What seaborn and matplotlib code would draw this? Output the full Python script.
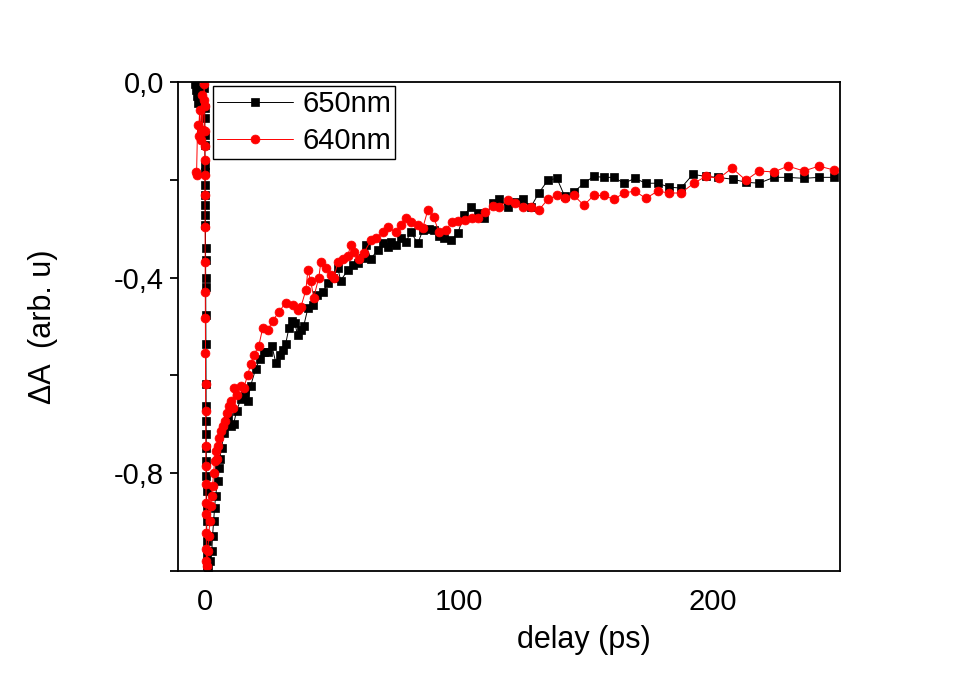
import numpy as np
import pandas as pd
import matplotlib
matplotlib.use("Agg")
import matplotlib.pyplot as plt
from matplotlib.ticker import FixedLocator
import seaborn as sns

# ---- data ----
t_650 = [-3.9, -3.5, -3.1, -2.8, -2.0, -1.2, -0.4,
         0.00, 0.03, 0.06, 0.09, 0.12, 0.15, 0.18, 0.21, 0.24, 0.27,
         0.30, 0.33, 0.36, 0.39, 0.42, 0.45, 0.48, 0.51, 0.54, 0.57,
         0.60, 0.63, 0.66, 0.69, 0.72, 0.75, 0.78, 0.81, 0.84, 0.87,
         1.2, 2.0, 2.8, 3.1, 3.5, 3.9, 4.3, 5.1, 5.5, 5.9, 6.7, 7.5, 8.3, 9.1,
         10.2, 11.4, 12.6, 14.2, 15.7, 16.9, 18.1, 20.1, 21.7, 23.2, 24.8, 26.4,
         28.0, 29.5, 30.7, 31.9, 33.1, 34.3, 35.4, 36.6, 37.8, 39.0, 40.6, 42.5,
         44.1, 46.5, 48.4, 50.4, 52.4, 53.5, 56.3, 58.3, 60.2, 62.2, 63.4, 65.4,
         68.1, 70.1, 72.0, 73.2, 75.2, 77.2, 79.1, 81.1, 83.9, 85.8, 88.2, 90.2,
         92.1, 94.1, 96.9, 99.6, 102.0, 104.7, 107.5, 109.8, 113.4, 115.7, 119.3,
         122.4, 125.2, 128.3, 131.5, 135.0, 138.6, 141.7, 145.3, 149.2, 153.1,
         157.1, 161.0, 165.0, 169.3, 173.6, 178.3, 182.7, 187.4, 192.1, 197.2,
         202.0, 207.9, 213.0, 218.1, 224.0, 229.5, 235.8, 241.7, 247.6]
a_650 = [-0.004, -0.016, -0.029, -0.043, -0.027, -0.047, -0.012,
         -0.053, -0.074, -0.109, -0.129, -0.170, -0.184, -0.211, -0.232, -0.252, -0.273,
         -0.293, -0.340, -0.365, -0.400, -0.420, -0.477, -0.535, -0.617, -0.662, -0.693,
         -0.719, -0.748, -0.775, -0.805, -0.836, -0.867, -0.898, -0.939, -0.969, -0.990,
         -0.996, -0.980, -0.959, -0.928, -0.898, -0.871, -0.846, -0.816, -0.789, -0.770,
         -0.748, -0.717, -0.697, -0.686,
         -0.703, -0.699, -0.672, -0.648, -0.635, -0.652, -0.621, -0.586, -0.566, -0.553,
         -0.553, -0.539, -0.574, -0.559, -0.549, -0.535, -0.504, -0.488, -0.492, -0.518,
         -0.508, -0.498, -0.463, -0.457, -0.436, -0.430, -0.412, -0.400, -0.381, -0.406,
         -0.385, -0.375, -0.371, -0.359, -0.334, -0.361, -0.344, -0.330, -0.338, -0.328,
         -0.334, -0.320, -0.328, -0.307, -0.330, -0.303, -0.301, -0.303, -0.314, -0.318,
         -0.324, -0.309, -0.273, -0.256, -0.268, -0.279, -0.248, -0.240, -0.256, -0.246,
         -0.240, -0.256, -0.227, -0.201, -0.197, -0.234, -0.225, -0.207, -0.193, -0.195,
         -0.195, -0.207, -0.197, -0.207, -0.207, -0.215, -0.217, -0.189, -0.193, -0.195,
         -0.199, -0.205, -0.207, -0.195, -0.195, -0.197, -0.195, -0.195]

t_640 = [-3.6, -3.2, -2.8, -2.4, -2.0, -1.6, -1.2, -0.8, -0.4, -0.2,
         0.00, 0.02, 0.04, 0.06, 0.09, 0.12, 0.15, 0.19, 0.23, 0.27, 0.31,
         0.35, 0.39, 0.43, 0.47, 0.51, 0.55, 0.59, 0.63, 0.67, 0.71,
         0.8, 1.2, 1.6, 2.0, 2.4, 2.8, 3.1, 3.5, 3.9, 4.3, 4.7, 5.1, 5.5, 6.3,
         7.1, 7.9, 8.7, 9.4, 10.2, 11.0, 11.4, 12.6, 14.2, 15.4, 16.9, 18.1, 19.3,
         21.3, 22.8, 24.8, 26.8, 29.1, 31.9, 34.6, 36.6, 37.8, 39.8, 40.6, 41.7,
         42.9, 44.9, 45.7, 47.6, 49.6, 50.8, 52.4, 54.3, 56.3, 57.5, 58.7, 60.6,
         62.6, 65.4, 67.3, 70.1, 72.0, 75.2, 77.2, 79.1, 81.1, 83.9, 85.8, 87.8,
         90.2, 92.1, 94.9, 97.2, 99.6, 102.4, 105.1, 107.5, 110.2, 113.4, 115.7,
         119.3, 122.0, 125.2, 128.3, 131.5, 135.0, 138.6, 141.7, 145.3, 149.2,
         153.1, 157.1, 161.0, 165.0, 169.3, 173.6, 178.3, 182.7, 187.4, 192.5,
         197.2, 202.4, 207.5, 213.0, 218.1, 224.0, 229.5, 235.8, 241.7, 247.6]
a_640 = [-0.184, -0.190, -0.088, -0.110, -0.057, -0.119, -0.027, -0.098, -0.037, -0.004,
         -0.050, -0.100, -0.130, -0.160, -0.191, -0.232, -0.297, -0.369, -0.430, -0.482,
         -0.555, -0.617, -0.672, -0.744, -0.785, -0.822, -0.861, -0.883, -0.922, -0.955,
         -0.980,
         -0.990, -0.959, -0.928, -0.898, -0.867, -0.846, -0.826, -0.799, -0.775, -0.754,
         -0.770, -0.744, -0.727, -0.713, -0.703, -0.693, -0.676, -0.662, -0.652, -0.666,
         -0.625, -0.641, -0.621, -0.625, -0.600, -0.576, -0.559, -0.539, -0.504, -0.508,
         -0.488, -0.471, -0.451, -0.457, -0.467, -0.461, -0.426, -0.385, -0.406, -0.441,
         -0.400, -0.369, -0.381, -0.395, -0.400, -0.369, -0.361, -0.355, -0.334, -0.348,
         -0.361, -0.350, -0.324, -0.320, -0.307, -0.297, -0.307, -0.293, -0.279, -0.287,
         -0.293, -0.299, -0.262, -0.277, -0.307, -0.303, -0.287, -0.285, -0.283, -0.279,
         -0.279, -0.266, -0.254, -0.256, -0.242, -0.248, -0.256, -0.256, -0.262, -0.240,
         -0.232, -0.238, -0.232, -0.252, -0.232, -0.232, -0.240, -0.227, -0.223, -0.238,
         -0.223, -0.227, -0.227, -0.207, -0.193, -0.197, -0.176, -0.201, -0.182, -0.184,
         -0.172, -0.182, -0.172, -0.180]

y_ticks = [0.0, -0.4, -0.8]
y_tick_labels = ["0,0", "-0,4", "-0,8"]
y_minor = [-0.2, -0.6, -1.0]
x_ticks = [0, 100, 200]
x_tick_labels = ["0", "100", "200"]

df650 = pd.DataFrame({"t": t_650, "a": a_650})
df640 = pd.DataFrame({"t": t_640, "a": a_640})

sns.set_style("ticks")
plt.rcParams["font.family"] = ["Liberation Sans", "DejaVu Sans"]
plt.rcParams["text.color"] = "black"
plt.rcParams["axes.labelcolor"] = "black"

fig = plt.figure(figsize=(9.6, 6.75), dpi=100)
ax = fig.add_axes([178 / 960, 1 - 571 / 675, 662 / 960, 489 / 675])

sns.lineplot(data=df650, x="t", y="a", ax=ax, sort=False, estimator=None,
             color="black", linewidth=0.7, marker="s", markersize=5.4,
             markeredgecolor="black", markeredgewidth=0.5, label="650nm")
sns.lineplot(data=df640, x="t", y="a", ax=ax, sort=False, estimator=None,
             color="#ff0000", linewidth=0.7, marker="o", markersize=6.4,
             markeredgecolor="#ff0000", markeredgewidth=0.5, label="640nm")

ax.set_xlim(-10.5, 250)
ax.set_ylim(-1.0, 0.0)
ax.set_xticks(x_ticks)
ax.set_xticklabels(x_tick_labels)
ax.set_yticks(y_ticks)
ax.set_yticklabels(y_tick_labels)
ax.yaxis.set_minor_locator(FixedLocator(y_minor))

for s in ax.spines.values():
    s.set_visible(True)
    s.set_linewidth(1.3)
    s.set_color("black")

ax.tick_params(axis="y", which="major", direction="out", length=6, width=1.3,
               labelsize=21, pad=4, colors="black")
ax.tick_params(axis="y", which="minor", direction="out", length=6, width=1.3,
               colors="black")
ax.tick_params(axis="x", which="both", length=0, labelsize=21, pad=12, colors="black")

ax.set_xlabel("delay (ps)", fontsize=22, color="black")
ax.set_ylabel("\u0394A  (arb. u)", fontsize=22, color="black")
ax.xaxis.set_label_coords(0.613, -0.11)
ax.yaxis.set_label_coords(-0.182, 0.5)

leg = ax.legend(loc="upper left", bbox_to_anchor=(0.053, 0.992), borderaxespad=0,
                fontsize=21, frameon=True, fancybox=False, framealpha=1,
                edgecolor="black", handlelength=2.6, handletextpad=0.3,
                borderpad=0.15, labelspacing=0.3)
leg.get_frame().set_linewidth(1.0)
for txt in leg.get_texts():
    txt.set_color("black")

fig.savefig("out.png", dpi=100, facecolor="white")
